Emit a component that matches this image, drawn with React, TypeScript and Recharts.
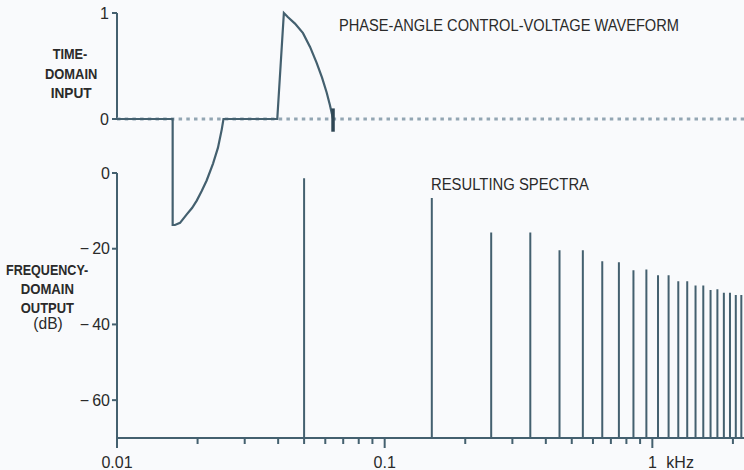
import React from 'react';
import { ComposedChart, Line, XAxis, YAxis, ReferenceLine } from 'recharts';

// ---- Time-domain input (phase-angle control waveform) ----
const waveTimeMs = [0, 5.06, 5.06, 5.27, 5.73, 6.34, 6.82, 7.25, 7.7, 8.15, 8.73, 9.18, 9.52, 9.68, 14.57, 15.17, 15.55, 16.18, 16.91, 17.55, 18.15, 18.64, 19.06, 19.36, 19.64];
const waveLevel = [0, 0, -1, -1, -0.98, -0.9, -0.84, -0.77, -0.68, -0.58, -0.42, -0.27, -0.1, 0, 0, 1, 0.96, 0.9, 0.81, 0.68, 0.53, 0.39, 0.25, 0.13, 0];
const timeDomain = [0, 57];
const timeTicks = [0, 1];

// ---- Frequency-domain output (odd harmonics of 50 Hz) ----
const harmonicKHz = [0.05, 0.15, 0.25, 0.35, 0.45, 0.55, 0.65, 0.75, 0.85, 0.95, 1.05, 1.15, 1.25, 1.35, 1.45, 1.55, 1.65, 1.75, 1.85, 1.95, 2.05, 2.15];
const harmonicDb = [-1.4, -6.6, -15.7, -15.7, -20.4, -20.4, -23.3, -23.6, -25.7, -25.5, -27, -27, -28.6, -28.6, -29.7, -29.7, -30.9, -30.7, -31.6, -31.6, -32.2, -32.2];
const dbFloor = -70;
const dbTicks = [0, -20, -40, -60];
const freqTicks = [0.01, 0.02, 0.03, 0.04, 0.05, 0.06, 0.07, 0.08, 0.09, 0.1, 0.2, 0.3, 0.4, 0.5, 0.6, 0.7, 0.8, 0.9, 1, 2];
const freqMajorLabels: Record<string, string> = { '0.01': '0.01', '0.1': '0.1', '1': '1' };

const waveData = waveTimeMs.map((t, i) => ({ t, v: waveLevel[i] }));
const zeroRef = [{ t: timeDomain[0], v: 0 }, { t: timeDomain[1], v: 0 }];
const specData: { f: number; db: number | null }[] = [];
harmonicKHz.forEach((f, i) => {
  specData.push({ f, db: dbFloor });
  specData.push({ f, db: harmonicDb[i] });
  specData.push({ f, db: null });
});

const INK = '#44606f';
const TEXT = '#2a2a2a';
const FONT = '"Liberation Sans", Arial, sans-serif';
const BG = '#f9fafc';

const fmtDb = (v: number) => (v === 0 ? '0' : `\u2212\u2009${Math.abs(v)}`);

const FreqTick = (props: any) => {
  const { x, y, payload } = props;
  const key = String(payload.value);
  const label = freqMajorLabels[key];
  const major = label !== undefined;
  return (
    <g>
      <line x1={x} x2={x} y1={y} y2={y + (major ? 10 : 6)} stroke={INK} strokeWidth={2} />
      {major && (
        <text x={x} y={y + 30} textAnchor="middle" fontSize={16} fontFamily={FONT} fill={TEXT}>
          {label}
        </text>
      )}
      {key === '1' && (
        <text x={x + 14} y={y + 30} textAnchor="start" fontSize={16} fontFamily={FONT} fill={TEXT}>
          kHz
        </text>
      )}
    </g>
  );
};

export default function App() {
  return (
    <div style={{ position: 'absolute', left: 0, top: 0, width: 744, height: 470, background: BG, overflow: 'hidden' }}>
      {/* Bottom: spectrum */}
      <div style={{ position: 'absolute', left: 0, top: 0 }}>
        <ComposedChart width={744} height={470} data={specData} margin={{ top: 173, right: 0, bottom: 2, left: 57 }}>
          <XAxis
            dataKey="f"
            type="number"
            scale="log"
            domain={[0.01, 2.2]}
            allowDataOverflow
            ticks={freqTicks}
            interval={0}
            height={30}
            tickSize={0}
            tickMargin={0}
            tickLine={false}
            axisLine={{ stroke: INK, strokeWidth: 2 }}
            tick={<FreqTick />}
          />
          <YAxis
            type="number"
            domain={[dbFloor, 0]}
            ticks={dbTicks}
            width={60}
            tickSize={5}
            tickMargin={2}
            tickFormatter={fmtDb}
            axisLine={{ stroke: INK, strokeWidth: 2 }}
            tickLine={{ stroke: INK, strokeWidth: 2 }}
            tick={{ fontSize: 16, fontFamily: FONT, fill: TEXT }}
          />
          <Line dataKey="db" stroke={INK} strokeWidth={2} dot={false} connectNulls={false} isAnimationActive={false} type="linear" />
        </ComposedChart>
      </div>
      {/* Top: time-domain waveform */}
      <div style={{ position: 'absolute', left: 0, top: 0 }}>
        <ComposedChart width={744} height={470} data={waveData} margin={{ top: 13, right: 0, bottom: 245, left: 57 }}>
          <XAxis dataKey="t" type="number" domain={timeDomain} hide />
          <YAxis
            type="number"
            domain={[-1, 1]}
            ticks={timeTicks}
            width={60}
            tickSize={5}
            tickMargin={3}
            axisLine={false}
            tickLine={{ stroke: INK, strokeWidth: 2 }}
            tick={{ fontSize: 16, fontFamily: FONT, fill: TEXT }}
          />
          <ReferenceLine segment={[{ x: 0, y: 0 }, { x: 0, y: 1 }]} stroke={INK} strokeWidth={2} />
          <Line data={zeroRef} dataKey="v" stroke="#93a6b3" strokeWidth={3} strokeDasharray="3.5 4.2" dot={false} isAnimationActive={false} type="linear" />
          <Line dataKey="v" stroke={INK} strokeWidth={2.2} dot={false} isAnimationActive={false} type="linear" />
          <ReferenceLine segment={[{ x: waveTimeMs[waveTimeMs.length - 1], y: 0.1 }, { x: waveTimeMs[waveTimeMs.length - 1], y: -0.12 }]} stroke="#2f4654" strokeWidth={3.5} />
        </ComposedChart>
      </div>
      {/* Annotations */}
      <svg width={744} height={470} style={{ position: 'absolute', left: 0, top: 0, pointerEvents: 'none' }}>
        <g fontFamily={FONT} fill={TEXT}>
          <text x={339} y={31} fontSize={16} textLength={340} lengthAdjust="spacingAndGlyphs">PHASE-ANGLE CONTROL-VOLTAGE WAVEFORM</text>
          <text x={431} y={190} fontSize={16} textLength={158} lengthAdjust="spacingAndGlyphs">RESULTING SPECTRA</text>
          <g fontWeight="bold" fontSize={15}>
            <text x={52.7} y={59.3} textLength={34.6} lengthAdjust="spacingAndGlyphs">TIME-</text>
            <text x={45} y={78.5} textLength={52.3} lengthAdjust="spacingAndGlyphs">DOMAIN</text>
            <text x={50.7} y={98.3} textLength={41} lengthAdjust="spacingAndGlyphs">INPUT</text>
            <text x={6} y={275} textLength={82.3} lengthAdjust="spacingAndGlyphs">FREQUENCY-</text>
            <text x={20.7} y={293.5} textLength={53.3} lengthAdjust="spacingAndGlyphs">DOMAIN</text>
            <text x={20.7} y={312.7} textLength={53.3} lengthAdjust="spacingAndGlyphs">OUTPUT</text>
          </g>
          <text x={33.3} y={329} fontSize={16} textLength={29.4} lengthAdjust="spacingAndGlyphs">(dB)</text>
        </g>
      </svg>
    </div>
  );
}
